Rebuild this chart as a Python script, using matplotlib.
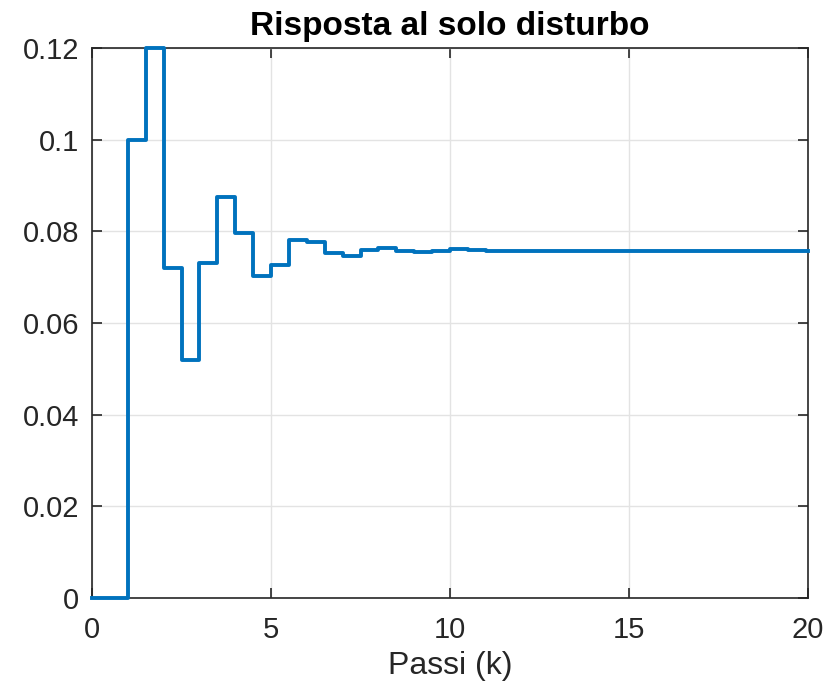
import numpy as np
import matplotlib
matplotlib.use('Agg')
import matplotlib.pyplot as plt

plt.rcParams['font.family'] = ['Liberation Sans', 'DejaVu Sans']

# passi (k) campionati ogni 0.5
k = np.arange(0, 20.5, 0.5)
# risposta al solo disturbo
y = [0.0, 0.0, 0.1, 0.12, 0.072, 0.052, 0.0731, 0.0874, 0.0796, 0.0703,
     0.0727, 0.0780, 0.0777, 0.0752, 0.0746, 0.0759, 0.0764, 0.0758, 0.0754, 0.0757,
     0.0761, 0.0759, 0.0757, 0.0758, 0.0758, 0.0758, 0.0758, 0.0758, 0.0758, 0.0758,
     0.0758, 0.0758, 0.0758, 0.0758, 0.0758, 0.0758, 0.0758, 0.0758, 0.0758, 0.0758,
     0.0758]

xticks = [0, 5, 10, 15, 20]
yticks = [0, 0.02, 0.04, 0.06, 0.08, 0.1, 0.12]
yticklabels = ['0', '0.02', '0.04', '0.06', '0.08', '0.1', '0.12']

fig = plt.figure(figsize=(8.39, 6.9), dpi=100)
ax = fig.add_axes([92 / 839, 1 - 598 / 690, (808 - 92) / 839, (598 - 48) / 690])

ax.step(k, y, where='post', color='#0072BD', linewidth=2.8, clip_on=False, zorder=3)

ax.set_xlim(0, 20)
ax.set_ylim(0, 0.12)
ax.set_xticks(xticks)
ax.set_xticklabels([str(t) for t in xticks])
ax.set_yticks(yticks)
ax.set_yticklabels(yticklabels)
ax.tick_params(direction='in', length=7, width=1.2, labelsize=21, colors='#262626',
               top=True, right=True)
ax.tick_params(axis='y', pad=9)
ax.tick_params(axis='x', pad=13)
for s in ax.spines.values():
    s.set_linewidth(1.2)
    s.set_color('#262626')
ax.grid(True, color='#e3e3e3', linewidth=1)
ax.set_axisbelow(True)

ax.set_xlabel('Passi (k)', fontsize=23, color='#262626', labelpad=5)
ax.set_title('Risposta al solo disturbo', fontsize=24, fontweight='bold', pad=9)

fig.savefig('out.png', dpi=100)
